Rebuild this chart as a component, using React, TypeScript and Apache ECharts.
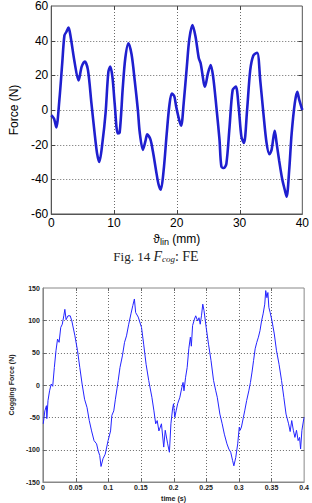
import React, { useEffect, useRef } from 'react';
import * as echarts from 'echarts';

// Fig. 14 (top): cogging force from FE, Force (N) vs theta_lin (mm)
const thetaMm = [
  0.0, 0.45, 0.8, 1.3, 1.75, 2.1, 2.4, 2.75, 3.1, 3.7, 4.35, 4.85, 5.35, 5.85, 6.4, 6.9, 7.3, 7.65, 8.15, 8.65,
  9.1, 9.4, 9.75, 10.1, 10.6, 10.9, 11.4, 11.8, 12.3, 12.8, 13.3, 13.8, 14.1, 14.6, 15.0, 15.3, 15.8, 16.2, 16.7, 17.1,
  17.45, 17.9, 18.4, 18.8, 19.2, 19.6, 19.9, 20.4, 20.7, 21.1, 21.6, 22.0, 22.5, 23.0, 23.5, 23.8, 24.5, 24.95, 25.4, 25.8,
  26.3, 26.8, 27.1, 27.5, 27.9, 28.4, 28.9, 29.4, 29.85, 30.3, 30.7, 31.2, 31.7, 32.2, 32.8, 33.3, 33.8, 34.3, 34.75, 35.1,
  35.6, 35.9, 36.3, 36.8, 37.2, 37.5, 37.9, 38.3, 38.8, 39.2, 39.5, 40.0,
];
const forceN = [
  -3, -5, -10, 6, 27, 43, 45, 47.5, 42, 28, 17, 25, 28, 23, 4, -13, -25, -30, -19, -2,
  22, 25, 19, 4, -13.5, -13, 13, 30, 38.5, 32, 17, 0, -13, -23, -18, -14, -17, -24, -35, -43,
  -46, -35, -13.5, 2, 9.5, 8, 2, -6, -9, 4, 25, 41, 49, 42, 30, 27, 13.5, 21, 26, 19,
  2, -17, -32.5, -33.5, -31, -10, 11.5, 13.5, 2, -15.5, -19, 0, 23, 31.5, 33, 17, -2, -19, -25.5, -23,
  -12, -19, -29, -40, -46, -50, -35, -13.5, 4, 10.5, 6, 0,
];
const topXRange = [0, 40];
const topYRange = [-60, 60];
const topXGrid = [10, 20, 30];
const topYGrid = [-40, -20, 0, 20, 40];

// Bottom: measured cogging force (N) vs time (s)
const timeS = [
  0.0005, 0.003, 0.0054, 0.006, 0.0078, 0.0102, 0.0127, 0.015, 0.0175, 0.02, 0.0224, 0.0248, 0.0273, 0.0297, 0.032, 0.0336,
  0.0355, 0.0384, 0.0418, 0.0443, 0.049, 0.053, 0.0565, 0.06, 0.0638, 0.0676, 0.071, 0.0745, 0.0783, 0.0822, 0.0847, 0.087,
  0.089, 0.092, 0.0954, 0.0998, 0.1036, 0.1056, 0.1085, 0.111, 0.1134, 0.1153, 0.118, 0.1217, 0.125, 0.128, 0.1314, 0.1348,
  0.1377, 0.1401, 0.142, 0.146, 0.151, 0.1543, 0.158, 0.162, 0.1669, 0.17, 0.1727, 0.175, 0.1776, 0.1815, 0.185, 0.1873,
  0.191, 0.1937, 0.196, 0.1985, 0.2, 0.2019, 0.204, 0.2063, 0.2097, 0.2127, 0.2146, 0.216, 0.2185, 0.2209, 0.2234, 0.2258,
  0.2273, 0.2292, 0.2321, 0.234, 0.237, 0.239, 0.2409, 0.2428, 0.2448, 0.2467, 0.25, 0.2536, 0.2574, 0.2613, 0.2647, 0.267,
  0.271, 0.2745, 0.2778, 0.2818, 0.2847, 0.2876, 0.2905, 0.2924, 0.2953, 0.2983, 0.3007, 0.302, 0.304, 0.307, 0.309, 0.312,
  0.3153, 0.3178, 0.3202, 0.3226, 0.325, 0.3275, 0.33, 0.3324, 0.3348, 0.3372, 0.3397, 0.3412, 0.343, 0.3445, 0.346, 0.348,
  0.3508, 0.3543, 0.3577, 0.3616, 0.3654, 0.3689, 0.3723, 0.3762, 0.3786, 0.381, 0.3835, 0.3859, 0.3883, 0.3908, 0.393, 0.3946,
  0.3966, 0.3995, 0.4,
];
const coggingForceN = [
  -60, -40, -32, -52, -24, -9, 1.5, -2, 27, 53, 71, 66, 89, 94, 107, 117,
  101, 107, 107, 99, 76, 53, 27, 1.5, -22, -35, -55, -71, -86, -91, -102, -109,
  -126, -114, -107, -86, -71, -47, -40, -22, -6, 7, 27, 45, 66, 76, 94, 110,
  123, 133, 112, 105, 89, 63, 32, 7, -19, -40, -60, -55, -71, -60, -96, -70,
  -91, -104, -60, -37, -29, -50, -40, -29, -19, -4, 4, -9, 12, 27, 56, 74,
  60, 92, 102, 107, 99, 104, 94, 107, 125, 115, 89, 63, 38, 7, -9, -19,
  -45, -60, -76, -91, -99, -104, -117, -125, -112, -91, -65, -70, -65, -50, -40, -24,
  -9, 4, 20, 38, 56, 66, 74, 84, 99, 110, 125, 146, 135, 143, 120, 112,
  99, 79, 53, 32, 7, -19, -45, -60, -72, -55, -70, -81, -70, -86, -81, -99,
  -70, -52, -50,
];
const botXRange = [0, 0.4];
const botYRange = [-150, 150];
const botXGrid = [0.05, 0.1, 0.15, 0.2, 0.25, 0.3, 0.35];
const botYGrid = [-100, -50, 0, 50, 100];

function gridSeries(
  axisIndex: number, xGrid: number[], yGrid: number[], xr: number[], yr: number[],
  gridColor: string, tickColor: string, tickLen: number,
) {
  const data = [
    ...xGrid.map((v) => [v, 0]),
    ...yGrid.map((v) => [v, 1]),
  ];
  return {
    type: 'custom',
    coordinateSystem: 'cartesian2d',
    xAxisIndex: axisIndex,
    yAxisIndex: axisIndex,
    silent: true,
    clip: false,
    z: 1,
    data,
    encode: { x: -1, y: -1 },
    renderItem: (_params: any, api: any) => {
      const v = api.value(0);
      const horizontal = api.value(1) === 1;
      const dot = { stroke: gridColor, lineWidth: 1, lineDash: [1, 2] };
      const tick = { stroke: tickColor, lineWidth: 1 };
      if (!horizontal) {
        const a = api.coord([v, yr[0]]);
        const b = api.coord([v, yr[1]]);
        const x = Math.round(a[0]) + 0.5;
        return {
          type: 'group',
          children: [
            { type: 'line', shape: { x1: x, y1: a[1], x2: x, y2: b[1] }, style: dot },
            { type: 'line', shape: { x1: x, y1: a[1], x2: x, y2: a[1] - tickLen }, style: tick },
            { type: 'line', shape: { x1: x, y1: b[1], x2: x, y2: b[1] + tickLen }, style: tick },
          ],
        };
      }
      const a = api.coord([xr[0], v]);
      const b = api.coord([xr[1], v]);
      const y = Math.round(a[1]) + 0.5;
      return {
        type: 'group',
        children: [
          { type: 'line', shape: { x1: a[0], y1: y, x2: b[0], y2: y }, style: dot },
          { type: 'line', shape: { x1: a[0], y1: y, x2: a[0] + tickLen, y2: y }, style: tick },
          { type: 'line', shape: { x1: b[0], y1: y, x2: b[0] - tickLen, y2: y }, style: tick },
        ],
      };
    },
  };
}

export default function App() {
  const ref = useRef<HTMLDivElement>(null);
  useEffect(() => {
    const chart = echarts.init(ref.current!, null, { renderer: 'svg' });
    const sans = '"Liberation Sans", Arial, sans-serif';
    const serif = '"Liberation Serif", "Times New Roman", serif';

    const topData = thetaMm.map((x, i) => [x, forceN[i]]);
    const botData = timeS.map((x, i) => [x, coggingForceN[i]]);

    const topLabel = { fontFamily: sans, fontSize: 12, color: '#000' };
    const botLabel = { fontFamily: sans, fontSize: 7, color: '#222', fontWeight: 'bold' };

    const option: any = {
      animation: false,
      grid: [
        { left: 33, top: 6, width: 272, height: 208, show: true, borderColor: '#555', borderWidth: 1 },
        { left: 33, top: 288, width: 274, height: 194, show: true, borderColor: '#888', borderWidth: 1 },
      ],
      xAxis: [
        {
          gridIndex: 0, type: 'value', min: topXRange[0], max: topXRange[1], interval: 10,
          axisLine: { show: true, onZero: false, lineStyle: { color: '#555' } },
          axisTick: { show: false },
          axisLabel: { ...topLabel, margin: 3 },
          splitLine: { show: false },
          name: '{t|ϑ}{s|lin} {t|(mm)}', nameLocation: 'middle', nameGap: 17,
          nameTextStyle: {
            rich: {
              t: { fontFamily: sans, fontSize: 12, color: '#000' },
              s: { fontFamily: sans, fontSize: 9, color: '#000', verticalAlign: 'bottom', padding: [6, 0, 0, 0] },
            },
          },
        },
        {
          gridIndex: 1, type: 'value', min: botXRange[0], max: botXRange[1], interval: 0.05,
          axisLine: { show: true, onZero: false, lineStyle: { color: '#888' } },
          axisTick: { show: false },
          axisLabel: { ...botLabel, margin: 2, formatter: (v: number) => String(+v.toFixed(2)) },
          splitLine: { show: false },
          name: 'time (s)', nameLocation: 'middle', nameGap: 13,
          nameTextStyle: { ...botLabel },
        },
      ],
      yAxis: [
        {
          gridIndex: 0, type: 'value', min: topYRange[0], max: topYRange[1], interval: 20,
          axisLine: { show: true, onZero: false, lineStyle: { color: '#555' } },
          axisTick: { show: false },
          axisLabel: { ...topLabel, margin: 3 },
          splitLine: { show: false },
          name: 'Force (N)', nameLocation: 'middle', nameGap: 30,
          nameTextStyle: { fontFamily: sans, fontSize: 12, color: '#000' },
        },
        {
          gridIndex: 1, type: 'value', min: botYRange[0], max: botYRange[1], interval: 50,
          axisLine: { show: true, onZero: false, lineStyle: { color: '#888' } },
          axisTick: { show: false },
          axisLabel: { ...botLabel, margin: 3 },
          splitLine: { show: false },
          name: 'Cogging Force (N)', nameLocation: 'middle', nameGap: 22,
          nameTextStyle: { ...botLabel },
        },
      ],
      series: [
        gridSeries(0, topXGrid, topYGrid, topXRange, topYRange, '#6a6a6a', '#444', 4),
        gridSeries(1, botXGrid, botYGrid, botXRange, botYRange, '#6a6a6a', '#666', 3),
        {
          type: 'line', xAxisIndex: 0, yAxisIndex: 0, data: topData, showSymbol: false, smooth: 0.3,
          lineStyle: { color: '#1f1fcf', width: 2.6 }, z: 3,
        },
        {
          type: 'line', xAxisIndex: 1, yAxisIndex: 1, data: botData, showSymbol: false,
          lineStyle: { color: '#2424ff', width: 1 }, z: 3,
        },
      ],
      graphic: [
        {
          type: 'text', left: 'center', top: 249,
          style: {
            text: 'Fig. 14 {i|F}{s|cog}{n|: FE}',
            font: `13px ${serif}`, fill: '#222',
            rich: {
              i: { fontFamily: serif, fontSize: 14, fontStyle: 'italic', fill: '#222', color: '#222' },
              s: { fontFamily: serif, fontSize: 9, fontStyle: 'italic', fill: '#222', color: '#222', padding: [5, 0, 0, 0] },
              n: { fontFamily: serif, fontSize: 14, fill: '#222', color: '#222' },
            },
          },
        },
      ],
    };
    chart.setOption(option);
    return () => chart.dispose();
  }, []);
  return (
    <div
      ref={ref}
      style={{ position: 'absolute', left: 0, top: 0, width: 312, height: 503, background: '#fff' }}
    />
  );
}
